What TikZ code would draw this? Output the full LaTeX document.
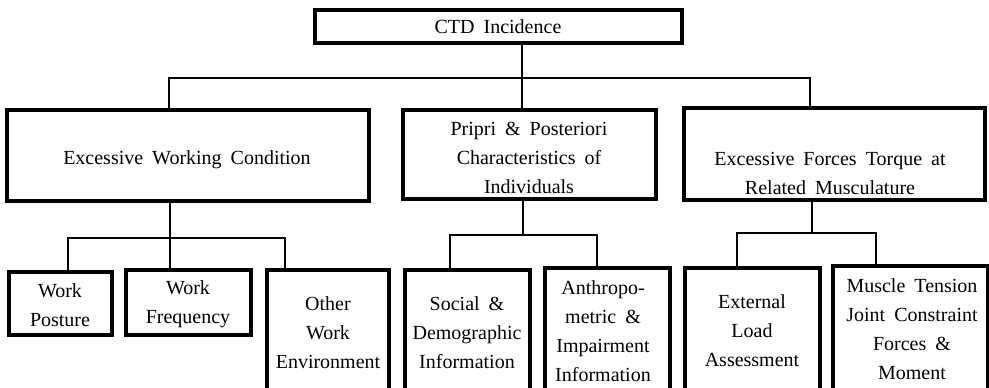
\documentclass[tikz,border=0pt]{standalone}
\usepackage{fontspec}
\setmainfont{Liberation Serif}[WordSpace=1.8]
\begin{document}
\begin{tikzpicture}[x=0.5pt,y=-0.5pt,
  bx/.style={draw=black, line width=1.7pt, inner sep=0pt, fill=none},
  txt/.style={inner sep=0pt, align=center, font=\fontsize{10}{14.5}\selectfont},
  conn/.style={draw=black, line width=0.55pt}]
\newcommand\bx[5]{\node[bx, minimum width={(#4-#2)*0.5pt}, minimum height={(#5-#3)*0.5pt}] (#1) at ({(#2+#4)/2},{(#3+#5)/2}) {};}
\useasboundingbox (0,0) rectangle (989,387);
\clip (0,0) rectangle (989,387);
% boxes
\bx{ctd}{315}{10}{682}{43}
\bx{ewc}{7}{110}{369}{201}
\bx{pp}{403}{110}{656}{199}
\bx{ef}{684}{108}{985}{200}
\bx{wp}{9}{272}{112}{335}
\bx{wf}{126}{270}{251}{335}
\bx{owe}{267}{270}{389}{400}
\bx{soc}{405}{270}{530}{400}
\bx{ant}{545}{268}{670}{400}
\bx{ext}{685}{268}{820}{400}
\bx{mus}{833}{266}{988}{400}
% texts
\node[txt] (ctd-t) at (498,27) {CTD Incidence};
\node[txt] (ewc-t) at (187,160) {Excessive Working Condition};
\node[txt] (pp-t) at (529,158) {Pripri \& Posteriori\\Characteristics of\\Individuals};
\node[txt] (ef-t) at (830,173) {Excessive Forces Torque at\\Related Musculature};
\node[txt] (wp-t) at (60,305) {Work\\Posture};
\node[txt] (wf-t) at (188,304) {Work\\Frequency};
\node[txt] (owe-t) at (328,333) {Other\\Work\\Environment};
\node[txt] (soc-t) at (467,333) {Social \&\\Demographic\\Information};
\node[txt] (ant-t) at (603,331) {Anthropo-\\metric \&\\Impairment\\Information};
\node[txt] (ext-t) at (752,331) {External\\Load\\Assessment};
\node[txt] (mus-t) at (912,329) {Muscle Tension\\Joint Constraint\\Forces \&\\Moment};
% junction coordinates
\coordinate (bl) at (169,78);
\coordinate (br) at (810,78);
\coordinate (bv) at (522,78);
\coordinate (e1) at (68,238);
\coordinate (e2) at (285,238);
\coordinate (ev) at (170,238);
\coordinate (p1) at (450,235);
\coordinate (p2) at (597,235);
\coordinate (pv) at (523,235);
\coordinate (f1) at (737,233);
\coordinate (f2) at (876,233);
\coordinate (fv) at (812,233);
% connectors
\draw[conn] (bv |- ctd.south) -- (bv |- pp.north);
\draw[conn] (bl |- ewc.north) -- (bl) -- (br) -- (br |- ef.north);
\draw[conn] (ev |- ewc.south) -- (ev |- wf.north);
\draw[conn] (e1 |- wp.north) -- (e1) -- (e2) -- (e2 |- owe.north);
\draw[conn] (pv |- pp.south) -- (pv);
\draw[conn] (p1 |- soc.north) -- (p1) -- (p2) -- (p2 |- ant.north);
\draw[conn] (fv |- ef.south) -- (fv);
\draw[conn] (f1 |- ext.north) -- (f1) -- (f2) -- (f2 |- mus.north);
\end{tikzpicture}
\end{document}
